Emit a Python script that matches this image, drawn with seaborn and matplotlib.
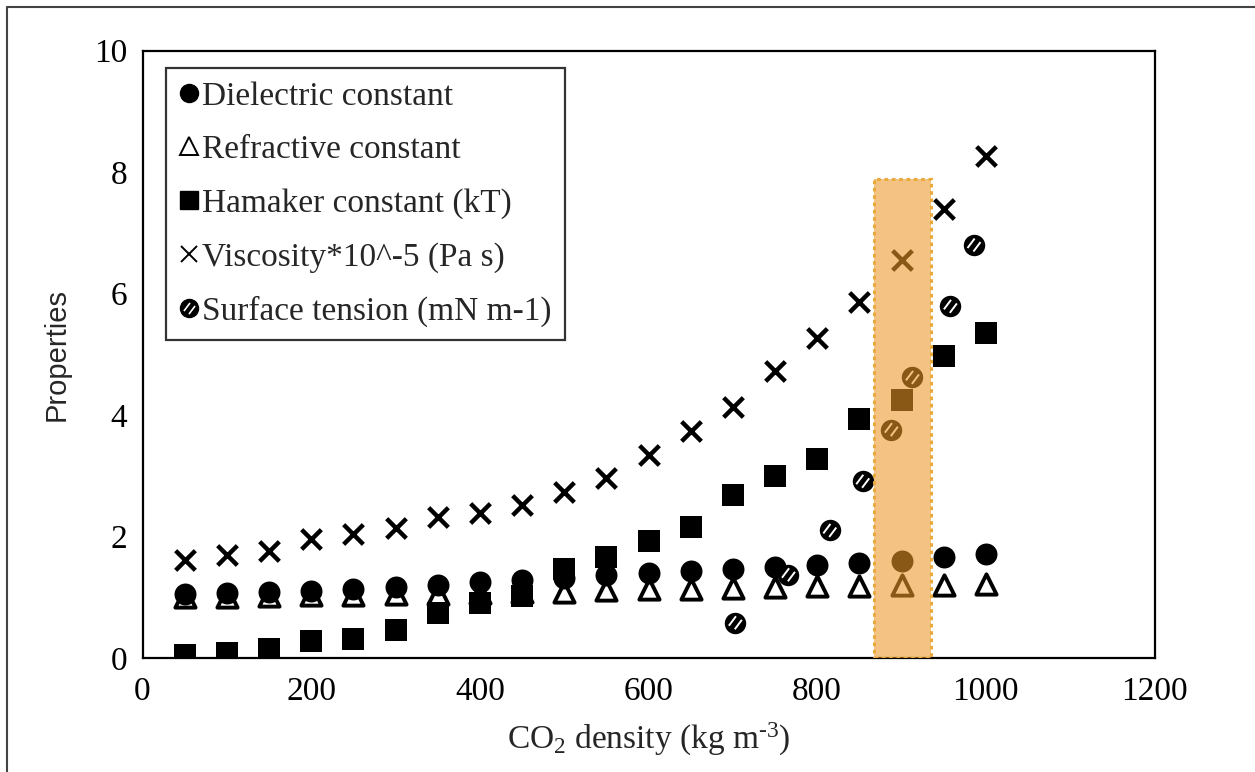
import numpy as np
import pandas as pd
import matplotlib
matplotlib.use("Agg")
import matplotlib.pyplot as plt
import seaborn as sns
from matplotlib.lines import Line2D
from matplotlib.patches import Rectangle
from matplotlib.path import Path
from matplotlib.legend_handler import HandlerTuple

# CO2 density grid (kg m-3)
density = [50, 100, 150, 200, 250, 300, 350, 400, 450, 500,
           550, 600, 650, 700, 750, 800, 850, 900, 950, 1000]

dielectric = [1.05, 1.07, 1.09, 1.11, 1.14, 1.17, 1.20, 1.25, 1.29, 1.32,
              1.36, 1.40, 1.43, 1.47, 1.50, 1.53, 1.57, 1.60, 1.66, 1.72]
refractive = [1.00, 1.01, 1.02, 1.03, 1.04, 1.05, 1.06, 1.07, 1.08, 1.09,
              1.12, 1.13, 1.14, 1.15, 1.17, 1.18, 1.19, 1.20, 1.21, 1.22]
hamaker = [0.05, 0.08, 0.15, 0.28, 0.31, 0.46, 0.74, 0.90, 1.02, 1.47,
           1.67, 1.92, 2.16, 2.69, 2.99, 3.28, 3.93, 4.25, 4.98, 5.35]
viscosity = [1.62, 1.70, 1.77, 1.96, 2.04, 2.14, 2.32, 2.39, 2.52, 2.73,
             2.97, 3.34, 3.74, 4.13, 4.73, 5.27, 5.87, 6.56, 7.40, 8.26]

# surface tension sits on its own density points
st_density = [703, 766, 815, 854, 888, 913, 958, 986]
surface_tension = [0.58, 1.37, 2.10, 2.91, 3.76, 4.62, 5.79, 6.80]

# highlighted band
band_x = [867, 935]
band_top = 7.88

labels = ["Dielectric constant", "Refractive constant", "Hamaker constant (kT)",
          "Viscosity*10^-5 (Pa s)", "Surface tension (mN m-1)"]

df = pd.DataFrame({"density": density, "dielectric": dielectric, "refractive": refractive,
                   "hamaker": hamaker, "viscosity": viscosity})
st_df = pd.DataFrame({"density": st_density, "surface": surface_tension})

sns.set_style("white")
plt.rcParams["font.family"] = ["Liberation Serif", "DejaVu Serif"]
plt.rcParams["mathtext.fontset"] = "custom"
plt.rcParams["mathtext.rm"] = "Liberation Serif"
plt.rcParams["mathtext.it"] = "Liberation Serif:italic"

fig = plt.figure(figsize=(12.55, 7.72), dpi=100)
ax = fig.add_axes([142.5 / 1255, 1 - 658 / 772, 1012 / 1255, 607.3 / 772])

ms = 250
sns.scatterplot(data=df, x="density", y="refractive", marker="^", s=ms * 0.85,
                facecolor="white", edgecolor="black", linewidth=2.8, ax=ax, zorder=3)
sns.scatterplot(data=df, x="density", y="dielectric", marker="o", s=ms,
                color="black", edgecolor="black", linewidth=0, ax=ax, zorder=4)
sns.scatterplot(data=df, x="density", y="hamaker", marker="s", s=ms * 1.05,
                color="black", edgecolor="black", linewidth=0, ax=ax, zorder=4)
sns.scatterplot(data=df, x="density", y="viscosity", marker="x", s=ms * 0.8,
                color="black", linewidth=3.2, ax=ax, zorder=4)
sns.scatterplot(data=st_df, x="density", y="surface", marker="o", s=ms * 0.95,
                color="black", edgecolor="black", linewidth=0, ax=ax, zorder=4)

# white "//" inside the surface tension dots
hatch = Path([(-0.55, -0.25), (0.05, 0.55), (-0.05, -0.55), (0.55, 0.25)],
             [Path.MOVETO, Path.LINETO, Path.MOVETO, Path.LINETO])
ax.scatter(st_density, surface_tension, marker=hatch, s=ms * 0.35,
           facecolor="none", edgecolor="white", linewidth=1.4, zorder=5)

# orange band drawn over the points so they turn brown
ax.add_patch(Rectangle((band_x[0], 0), band_x[1] - band_x[0], band_top,
                       facecolor=(0.93, 0.60, 0.16), alpha=0.58, edgecolor="none", zorder=6))
ax.add_patch(Rectangle((band_x[0], 0), band_x[1] - band_x[0], band_top,
                       fill=False, edgecolor="#E9AA3C", linestyle=(0, (1.2, 1.2)),
                       linewidth=2.2, zorder=7))

ax.set_xlim(0, 1200)
ax.set_ylim(0, 10)
ax.set_xticks(range(0, 1201, 200))
ax.set_yticks(range(0, 11, 2))
ax.tick_params(axis="x", pad=13)
ax.tick_params(axis="y", pad=11)
ax.tick_params(direction="in", length=7, width=1.5, labelsize=24,
               colors="black", top=False, right=False)
for sp in ax.spines.values():
    sp.set_visible(True)
    sp.set_color("black")
    sp.set_linewidth(1.6)

ax.set_xlabel("CO$_2$ density (kg m$^{\u2010 3}$)", fontsize=24, labelpad=10)
ax.set_ylabel("Properties", fontsize=21, family="Liberation Sans", labelpad=17)

handles = [
    Line2D([], [], marker="o", ls="", color="black", markersize=13),
    Line2D([], [], marker="^", ls="", markerfacecolor="white", markeredgecolor="black",
           markeredgewidth=1.4, markersize=13),
    Line2D([], [], marker="s", ls="", color="black", markersize=13),
    Line2D([], [], marker="x", ls="", color="black", markeredgewidth=1.4, markersize=12),
    (Line2D([], [], marker="o", ls="", color="black", markersize=13),
     Line2D([], [], marker=hatch, ls="", markerfacecolor="none", markeredgecolor="white",
            markeredgewidth=1.2, markersize=8)),
]
leg = ax.legend(handles, labels, loc="upper left", bbox_to_anchor=(0.0237, 0.972),
                borderaxespad=0, fontsize=24, frameon=True, fancybox=False,
                handlelength=0.55, handletextpad=0.12, labelspacing=0.69,
                borderpad=0.4, handler_map={tuple: HandlerTuple(ndivide=1)})
leg.get_frame().set_edgecolor("black")
leg.get_frame().set_linewidth(1.6)
leg.set_zorder(10)

# image border (left and top only)
fig.add_artist(Line2D([7 / 1255, 7 / 1255], [0, 1 - 7 / 772], color="#444444", lw=1.5,
                      transform=fig.transFigure))
fig.add_artist(Line2D([7 / 1255, 1], [1 - 7 / 772, 1 - 7 / 772], color="#444444", lw=1.5,
                      transform=fig.transFigure))

fig.savefig("out.png", dpi=100)
